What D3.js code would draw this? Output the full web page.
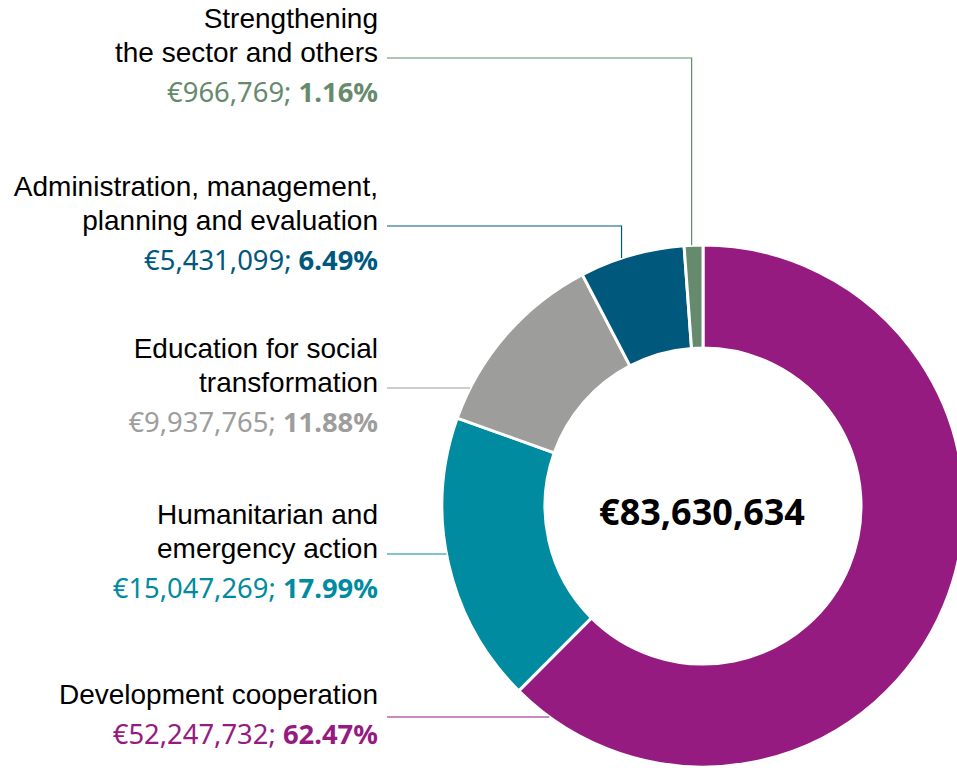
<!DOCTYPE html>
<head>
  <meta charset="utf-8" />
  <title>Donut</title>
  <style>
    body { margin: 0; background: #fff; }
    svg { display: block; }
  </style>
</head>
<body>
  <script src="https://cdn.jsdelivr.net/npm/d3@7"></script>
  <script>
    // data, in drawing order (clockwise from 12 o'clock)
    var categories = [
      ["Development cooperation"],
      ["Humanitarian and", "emergency action"],
      ["Education for social", "transformation"],
      ["Administration, management,", "planning and evaluation"],
      ["Strengthening", "the sector and others"]
    ];
    var amounts = [52247732, 15047269, 9937765, 5431099, 966769];
    var percents = ["62.47%", "17.99%", "11.88%", "6.49%", "1.16%"];
    var colors = ["#951b81", "#008ba0", "#9d9d9c", "#00587c", "#658b6c"];
    var total = 83630634;

    var width = 957, height = 768;
    var cx = 703, cy = 506, outerR = 261, innerR = 158;
    var labelX = 378;
    // baseline of the value line for each label block
    var valueY = [744, 598, 432, 270, 102];

    var fmt = d3.format(",");

    var svg = d3.select("body").append("svg")
      .attr("width", width).attr("height", height);

    var pie = d3.pie().sort(null).value(function (d) { return d; });
    var arcs = pie(amounts);
    var arc = d3.arc().innerRadius(innerR).outerRadius(outerR);

    var g = svg.append("g").attr("transform", "translate(" + cx + "," + cy + ")");
    g.selectAll("path")
      .data(arcs)
      .enter()
      .append("path")
      .attr("d", arc)
      .attr("fill", function (d, i) { return colors[i]; })
      .attr("stroke", "#fff")
      .attr("stroke-width", 3);

    g.append("text")
      .attr("x", -1).attr("y", 19)
      .attr("text-anchor", "middle")
      .style("font-family", "'Noto Sans', sans-serif")
      .style("font-weight", "bold")
      .style("font-size", "36px")
      .attr("fill", "#000")
      .text("€" + fmt(total));

    // labels + leader lines
    var lineH = 34;
    arcs.forEach(function (a, i) {
      var lines = categories[i];
      var vy = valueY[i];
      var lastY = vy - 40;
      var t = svg.append("text")
        .attr("text-anchor", "end")
        .style("font-family", "'Liberation Sans', Arial, sans-serif")
        .style("font-size", "28px")
        .attr("fill", "#000");
      lines.forEach(function (l, j) {
        t.append("tspan")
          .attr("x", labelX)
          .attr("y", lastY - (lines.length - 1 - j) * lineH)
          .text(l);
      });
      var v = svg.append("text")
        .attr("x", labelX).attr("y", vy)
        .attr("text-anchor", "end")
        .style("font-family", "'Noto Sans', sans-serif")
        .style("font-size", "27.4px")
        .attr("fill", colors[i]);
      v.append("tspan").text("€" + fmt(amounts[i]) + "; ");
      v.append("tspan").style("font-weight", "bold").text(percents[i]);

      var ly = lines.length > 1 ? lastY - 4 : lastY + 13;
      var pts;
      if (i >= 3) {
        // elbow down onto the small slices at the top
        var ang = a.startAngle + 0.4 * (a.endAngle - a.startAngle);
        var mx = cx + outerR * Math.sin(ang);
        var my = cy - outerR * Math.cos(ang);
        pts = [[labelX + 9, ly], [mx, ly], [mx, my]];
      } else {
        var dy = ly - cy;
        var ex = cx - Math.sqrt(outerR * outerR - dy * dy);
        pts = [[labelX + 9, ly], [ex, ly]];
      }
      svg.append("path")
        .attr("d", d3.line()(pts))
        .attr("fill", "none")
        .attr("stroke", colors[i])
        .attr("stroke-width", 1.2);
    });
  </script>
</body>
